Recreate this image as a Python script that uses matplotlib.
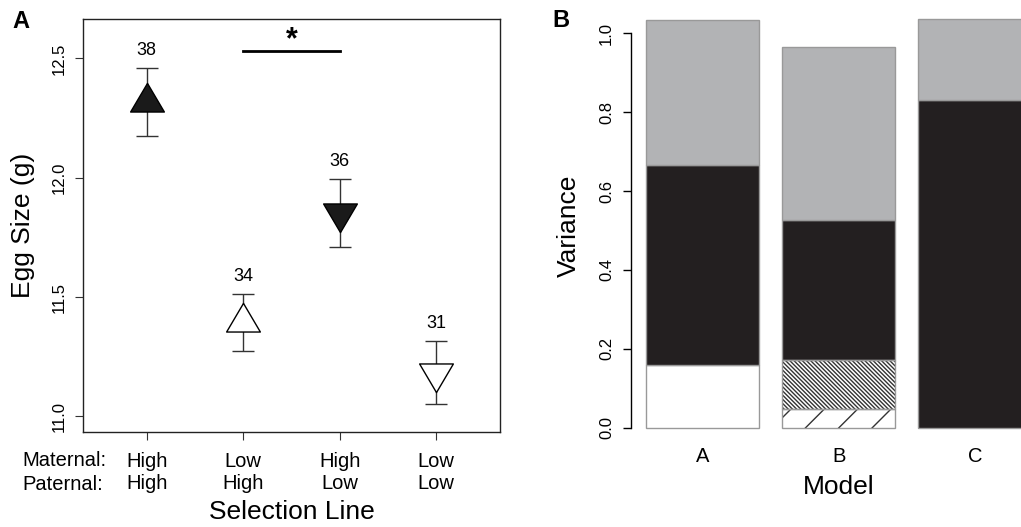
import numpy as np
import matplotlib
matplotlib.use("Agg")
import matplotlib.pyplot as plt
from matplotlib.path import Path

plt.rcParams['font.family'] = ['Liberation Sans', 'DejaVu Sans']

# panel A: egg size by selection line
maternal = ['High', 'Low', 'High', 'Low']
paternal = ['High', 'High', 'Low', 'Low']
egg_mean = [12.318, 11.394, 11.853, 11.184]
egg_se = [0.143, 0.118, 0.142, 0.131]
n_eggs = [38, 34, 36, 31]

# panel B: variance components per model
models = ['A', 'B', 'C']
open_part = [0.159, 0.0, 0.0]
sparse_hatch_part = [0.0, 0.047, 0.0]
dense_hatch_part = [0.0, 0.124, 0.0]
black_part = [0.507, 0.357, 0.830]
grey_part = [0.368, 0.437, 0.206]

W, H = 1021, 527
fig = plt.figure(figsize=(W / 100, H / 100), dpi=100)


def px_rect(l, t, r, b):
    return [l / W, 1 - b / H, (r - l) / W, (b - t) / H]


def tri(up=True):
    s = 1 if up else -1
    return Path([(0, s * 18.5), (-16.35, -s * 9.23), (16.35, -s * 9.23), (0, s * 18.5)],
                [Path.MOVETO, Path.LINETO, Path.LINETO, Path.CLOSEPOLY])


# ---- panel A ----
axA = fig.add_axes(px_rect(83, 19, 500, 431.7))
x = np.arange(1, len(egg_mean) + 1)
axA.errorbar(x, egg_mean, yerr=egg_se, fmt='none', ecolor='#333333', elinewidth=1,
             capsize=8, capthick=1, zorder=2)
styles = [(True, '#1a1a1a'), (True, 'white'), (False, '#1a1a1a'), (False, 'white')]
for xi, yi, (up, fc) in zip(x, egg_mean, styles):
    axA.plot(xi, yi, marker=tri(up), markersize=27.5, markerfacecolor=fc,
             markeredgecolor='black', markeredgewidth=1, linestyle='none', zorder=3)
for xi, yi, e, n in zip(x, egg_mean, egg_se, n_eggs):
    axA.annotate(str(n), (xi, yi + e), xytext=(0, 12.5), textcoords='offset points',
                 ha='center', va='center', fontsize=13)

# significance bar between lines 2 and 3
axA.plot([2, 3], [12.53, 12.53], color='black', lw=2)
axA.text(2.5, 12.578, '*', ha='center', va='center', fontsize=22, fontweight='bold')

axA.set_xlim(0.34, 4.66)
axA.set_ylim(10.936, 12.665)
axA.set_yticks([11.0, 11.5, 12.0, 12.5])
axA.set_yticklabels(['11.0', '11.5', '12.0', '12.5'], rotation=90, va='center')
axA.set_xticks(x)
axA.set_xticklabels([f'{m}\n{p}' for m, p in zip(maternal, paternal)], linespacing=1.22)
axA.tick_params(axis='y', length=5.5, width=0.8, color='#333333', labelsize=12, pad=6)
axA.tick_params(axis='x', length=5.5, width=0.8, color='#333333', labelsize=14.5, pad=9)
for sp in axA.spines.values():
    sp.set_linewidth(1)
    sp.set_color('#222222')
axA.set_ylabel('Egg Size (g)', fontsize=19, labelpad=12)
axA.set_xlabel('Selection Line', fontsize=19, labelpad=5)
fig.text(22 / W, 1 - 460 / H, 'Maternal:', fontsize=14.5, ha='left', va='center')
fig.text(22 / W, 1 - 484 / H, 'Paternal:', fontsize=14.5, ha='left', va='center')
fig.text(12 / W, 1 - 28.3 / H, 'A', fontsize=17, fontweight='bold', ha='left', va='baseline')

# ---- panel B ----
axB = fig.add_axes(px_rect(630.6, 2.9, 1047, 444))
xb = 0.7 + 1.2 * np.arange(len(models))
parts = [
    (open_part, 'white', None),
    (sparse_hatch_part, 'white', '/'),
    (dense_hatch_part, 'white', '\\' * 8),
    (black_part, '#231f20', None),
    (grey_part, '#b2b3b5', None),
]
bottom = np.zeros(len(models))
for vals, fc, hatch in parts:
    vals = np.asarray(vals)
    m = vals > 0
    if hatch:
        axB.bar(xb[m], vals[m], width=1.0, bottom=bottom[m], color=fc,
                edgecolor='#333333', linewidth=0, hatch=hatch, zorder=2)
        axB.bar(xb[m], vals[m], width=1.0, bottom=bottom[m], fill=False,
                edgecolor='#999999', linewidth=1, zorder=3)
    else:
        axB.bar(xb[m], vals[m], width=1.0, bottom=bottom[m], color=fc,
                edgecolor='#999999', linewidth=1, zorder=2)
    bottom = bottom + vals

axB.set_xlim(0.064, 3.736)
axB.set_ylim(-0.0414, 1.0774)
for side in ['top', 'right', 'bottom']:
    axB.spines[side].set_visible(False)
axB.spines['left'].set_bounds(0, 1)
axB.spines['left'].set_linewidth(1)
axB.set_yticks(np.arange(0, 1.01, 0.2))
axB.set_yticklabels([f'{v:.1f}' for v in np.arange(0, 1.01, 0.2)], rotation=90, va='center')
axB.tick_params(axis='y', length=6, width=1, labelsize=12, pad=6)
axB.set_xticks(xb)
axB.set_xticklabels(models)
axB.tick_params(axis='x', length=0, labelsize=14.5, pad=2)
axB.set_xlabel('Model', fontsize=19, labelpad=7)
fig.text(569 / W, 1 - 226 / H, 'Variance', fontsize=19, rotation=90, ha='center', va='center')
fig.text(552 / W, 1 - 27.3 / H, 'B', fontsize=17, fontweight='bold', ha='left', va='baseline')

fig.savefig('out.png', dpi=100)
